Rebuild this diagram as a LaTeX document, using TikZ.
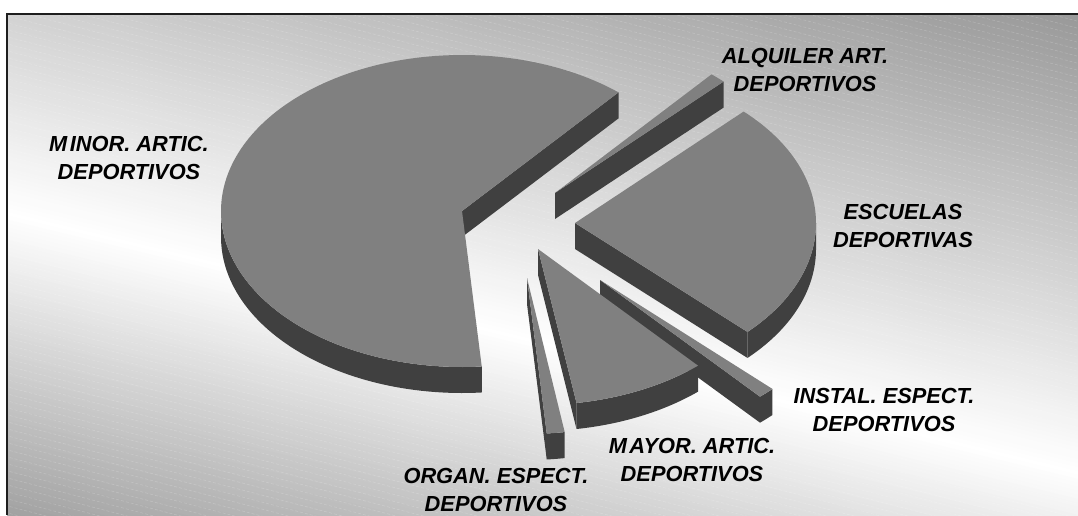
\documentclass[tikz,border=0pt]{standalone}
\usepackage{fontspec}
\setmainfont{Liberation Sans}
\definecolor{topc}{HTML}{808080}
\definecolor{sidec}{HTML}{404040}
\definecolor{bgtop}{HTML}{919191}
\definecolor{bgbot}{HTML}{666666}
\definecolor{framec}{HTML}{1E1E1E}
\newcommand{\pieA}{241}
\newcommand{\pieB}{156}
\newcommand{\pieD}{26}
\newcommand{\radface}[3]{%
  \fill[sideface] ({#1},{#2}) -- ({#1+\pieA*cos(#3)},{#2-\pieB*sin(#3)}) -- ({#1+\pieA*cos(#3)},{#2+\pieD-\pieB*sin(#3)}) -- ({#1},{#2+\pieD}) -- cycle;}
\newcommand{\rimface}[4]{%
  \fill[sideface] plot[domain=#3:#4,samples=60] ({#1+\pieA*cos(\x)},{#2-\pieB*sin(\x)}) -- plot[domain=#4:#3,samples=60] ({#1+\pieA*cos(\x)},{#2+\pieD-\pieB*sin(\x)}) -- cycle;}
\newcommand{\topface}[4]{%
  \fill[topfill] ({#1},{#2}) -- plot[domain=#3:#4,samples=150] ({#1+\pieA*cos(\x)},{#2-\pieB*sin(\x)}) -- cycle;}
\begin{document}
\begin{tikzpicture}[x=1pt,y=-1pt,
  sideface/.style={fill=sidec},
  topfill/.style={fill=topc},
  lbl/.style={font=\fontsize{21.8}{27.5}\selectfont\bfseries\itshape, align=center, inner sep=0pt, text=black}]
\useasboundingbox (0,0) rectangle (1078,515);
\fill[white] (0,0) rectangle (1078,515);
% background with diagonal gradient (bands)
\begin{scope}
  \clip (7,14) rectangle (1078,515);
  \foreach \o in {-480,-476,...,0} {
    \pgfmathsetmacro{\p}{min(100,abs(\o)*0.2025)}
    \fill[bgtop!\p!white] (0,{210+\o}) -- (1078,{471+\o}) -- (1078,{476+\o}) -- (0,{215+\o}) -- cycle;
  }
  \foreach \o in {0,4,...,320} {
    \pgfmathsetmacro{\p}{min(100,abs(\o)*0.2025)}
    \fill[bgbot!\p!white] (0,{210+\o}) -- (1078,{471+\o}) -- (1078,{476+\o}) -- (0,{215+\o}) -- cycle;
  }
  \foreach \i in {-60,...,110} {
    \draw[white, opacity=0.18, line width=0.6pt, dash pattern=on 3pt off 2pt] (0,{\i*7}) -- (1078,{\i*7+1078*0.26});
  }
\end{scope}
\draw[framec, line width=2pt] (7,515) -- (7,14) -- (1078,14);
% ALQUILER
\radface{555}{193}{45.6}
\topface{555}{193}{45.6}{49.5}
% MINOR
\radface{462}{211}{49.5}
\rimface{462}{211}{180}{274.7}
\topface{462}{211}{49.5}{274.7}
% ESCUELAS
\radface{575}{223}{-44.3}
\rimface{575}{223}{-44.3}{0}
\topface{575}{223}{-44.3}{45.6}
% INSTAL
\radface{600}{280}{-48.4}
\rimface{600}{280}{-48.4}{-44.3}
\topface{600}{280}{-48.4}{-44.3}
% MAYOR
\radface{538}{249}{-80.8}
\rimface{538}{249}{-80.8}{-48.4}
\topface{538}{249}{-80.8}{-48.4}
% ORGAN
\radface{527}{278}{-85.3}
\rimface{527}{278}{-85.3}{-81}
\topface{527}{278}{-85.3}{-81}
% labels
\node[lbl] (minor) at (129,158) {M\kern2.5pt INOR. ARTIC.\\DEPORTIVOS};
\node[lbl] (alq) at (805,70) {ALQUILER ART.\\DEPORTIVOS};
\node[lbl] (esc) at (903,226) {ESCUELAS\\DEPORTIVAS};
\node[lbl] (inst) at (884,410) {INSTAL. ESPECT.\\DEPORTIVOS};
\node[lbl] (mayor) at (692,460) {M\kern2.5pt AYOR. ARTIC.\\DEPORTIVOS};
\node[lbl] (organ) at (496,490) {ORGAN. ESPECT.\\DEPORTIVOS};
\end{tikzpicture}
\end{document}
